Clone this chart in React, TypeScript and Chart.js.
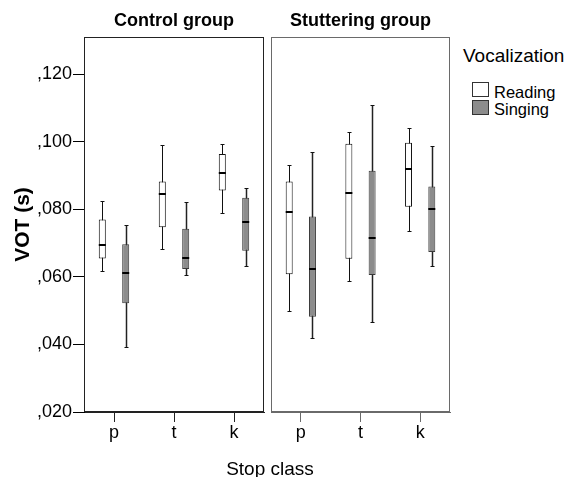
import React, { useEffect, useRef } from 'react';
import { Chart, registerables } from 'chart.js';

Chart.register(...registerables);

// ---------- data ----------
const categories = ['p', 't', 'k'];
const seriesNames = ['Reading', 'Singing'];
const panelTitles = ['Control group', 'Stuttering group'];
const yAxisTitle = 'VOT (s)';
const xAxisTitle = 'Stop class';
const legendTitle = 'Vocalization';
const yMin = 0.02;
const yMax = 0.1311;
const yStep = 0.02;

// Control group
const controlReadingMin = [0.0618, 0.0683, 0.0791];
const controlReadingQ1 = [0.0655, 0.0747, 0.0856];
const controlReadingMed = [0.0696, 0.0846, 0.0907];
const controlReadingQ3 = [0.077, 0.0883, 0.0964];
const controlReadingMax = [0.0824, 0.099, 0.0995];

const controlSingingMin = [0.0393, 0.0606, 0.0633];
const controlSingingQ1 = [0.0522, 0.0624, 0.0678];
const controlSingingMed = [0.0611, 0.0656, 0.0763];
const controlSingingQ3 = [0.0697, 0.0743, 0.0835];
const controlSingingMax = [0.0755, 0.0823, 0.0863];

// Stuttering group
const stutterReadingMin = [0.0499, 0.0588, 0.0737];
const stutterReadingQ1 = [0.0608, 0.0654, 0.0808];
const stutterReadingMed = [0.0793, 0.0848, 0.092];
const stutterReadingQ3 = [0.0883, 0.0995, 0.0998];
const stutterReadingMax = [0.0932, 0.1029, 0.1042];

const stutterSingingMin = [0.042, 0.0467, 0.0633];
const stutterSingingQ1 = [0.0482, 0.0606, 0.0674];
const stutterSingingMed = [0.0625, 0.0716, 0.0802];
const stutterSingingQ3 = [0.0779, 0.0915, 0.0868];
const stutterSingingMax = [0.0971, 0.1111, 0.0987];

// ---------- styles ----------
const FONT = "'Liberation Sans', Arial, sans-serif";
const READING_FILL = '#ffffff';
const SINGING_FILL = '#8c8c8c';

type Stats = { min: number[]; med: number[]; max: number[] };

function boxPlugin(stats: Stats[]) {
  return {
    id: 'boxParts',
    beforeDatasetsDraw(chart: any) {
      const ctx = chart.ctx;
      const y = chart.scales.y;
      chart.data.datasets.forEach((_ds: any, di: number) => {
        const meta = chart.getDatasetMeta(di);
        meta.data.forEach((bar: any, i: number) => {
          const x = Math.round(bar.x) + 0.5;
          const yTop = Math.round(y.getPixelForValue(stats[di].max[i])) + 0.5;
          const yBot = Math.round(y.getPixelForValue(stats[di].min[i])) + 0.5;
          ctx.save();
          ctx.strokeStyle = di === 0 ? '#111' : '#222';
          ctx.lineWidth = di === 0 ? 1 : 1.5;
          ctx.beginPath();
          ctx.moveTo(x, yTop);
          ctx.lineTo(x, yBot);
          ctx.stroke();
          ctx.lineWidth = 1;
          ctx.strokeStyle = '#111';
          ctx.beginPath();
          ctx.moveTo(x - 2, yTop);
          ctx.lineTo(x + 2, yTop);
          ctx.moveTo(x - 2, yBot);
          ctx.lineTo(x + 2, yBot);
          ctx.stroke();
          ctx.restore();
        });
      });
    },
    afterDatasetsDraw(chart: any) {
      const ctx = chart.ctx;
      const y = chart.scales.y;
      chart.data.datasets.forEach((_ds: any, di: number) => {
        const meta = chart.getDatasetMeta(di);
        meta.data.forEach((bar: any, i: number) => {
          const ym = Math.round(y.getPixelForValue(stats[di].med[i]));
          const half = bar.width / 2;
          ctx.save();
          ctx.strokeStyle = '#000';
          ctx.lineWidth = 2;
          ctx.beginPath();
          ctx.moveTo(bar.x - half, ym);
          ctx.lineTo(bar.x + half, ym);
          ctx.stroke();
          ctx.restore();
        });
      });
    },
  };
}

function framePlugin(color: string) {
  return {
    id: 'panelFrame',
    afterDraw(chart: any) {
      const { left, top, right, bottom } = chart.chartArea;
      const ctx = chart.ctx;
      ctx.save();
      ctx.strokeStyle = color;
      ctx.lineWidth = 1;
      ctx.strokeRect(left + 0.5, top + 0.5, right - left - 1, bottom - top - 1);
      ctx.restore();
    },
  };
}

function fmtTick(v: number) {
  return ',' + String(Math.round(v * 1000)).padStart(3, '0');
}

function makeConfig(panel: number) {
  const isLeft = panel === 0;
  const lineColor = isLeft ? '#222' : '#6a6a6a';
  const stats: Stats[] = isLeft
    ? [
        { min: controlReadingMin, med: controlReadingMed, max: controlReadingMax },
        { min: controlSingingMin, med: controlSingingMed, max: controlSingingMax },
      ]
    : [
        { min: stutterReadingMin, med: stutterReadingMed, max: stutterReadingMax },
        { min: stutterSingingMin, med: stutterSingingMed, max: stutterSingingMax },
      ];
  const q1s = isLeft ? [controlReadingQ1, controlSingingQ1] : [stutterReadingQ1, stutterSingingQ1];
  const q3s = isLeft ? [controlReadingQ3, controlSingingQ3] : [stutterReadingQ3, stutterSingingQ3];

  const datasets = seriesNames.map((name, si) => ({
    label: name,
    data: categories.map((_c, i) => [q1s[si][i], q3s[si][i]]),
    backgroundColor: si === 0 ? READING_FILL : SINGING_FILL,
    borderColor: si === 0 ? '#111' : '#3a3a3a',
    borderWidth: 1,
    borderSkipped: false,
    categoryPercentage: 0.78,
    barPercentage: 0.3,
  }));

  return {
    type: 'bar',
    data: { labels: categories, datasets },
    options: {
      responsive: false,
      animation: false,
      events: [],
      layout: {
        padding: isLeft
          ? { left: 0, right: 4, top: 0, bottom: 0 }
          : { left: 5, right: 6, top: 0, bottom: 0 },
      },
      plugins: {
        legend: { display: false },
        tooltip: { enabled: false },
        title: { display: false },
      },
      scales: {
        x: {
          type: 'category',
          position: 'bottom',
          offset: true,
          grid: {
            display: true,
            drawOnChartArea: false,
            drawTicks: true,
            tickLength: 10,
            offset: false,
            color: lineColor,
          },
          border: { display: true, color: lineColor },
          ticks: {
            color: '#000',
            padding: 0,
            font: { family: FONT, size: 18 },
            maxRotation: 0,
            autoSkip: false,
          },
          afterFit: (s: any) => {
            s.height = 65;
          },
        },
        x2: {
          type: 'category',
          position: 'top',
          labels: categories,
          grid: { display: false },
          border: { display: false },
          ticks: { display: false },
          title: {
            display: true,
            text: panelTitles[panel],
            color: '#000',
            font: { family: FONT, size: 18, weight: 'bold' },
            padding: { top: 10.5, bottom: 0 },
          },
          afterFit: (s: any) => {
            s.height = 37;
          },
        },
        y: {
          type: 'linear',
          display: isLeft,
          min: yMin,
          max: yMax,
          grid: {
            drawOnChartArea: false,
            drawTicks: true,
            tickLength: 11,
            color: '#000',
          },
          border: { display: true, color: '#000' },
          ticks: {
            stepSize: yStep,
            includeBounds: false,
            padding: 1,
            color: '#000',
            font: { family: FONT, size: 18 },
            callback: (v: any) => fmtTick(Number(v)),
          },
          title: {
            display: true,
            text: yAxisTitle,
            color: '#000',
            font: { family: FONT, size: 21, weight: 'bold' },
            padding: { top: 10.5, bottom: 0 },
          },
          afterFit: (s: any) => {
            s.width = isLeft ? 84 : 0;
          },
        },
      },
    },
    plugins: [boxPlugin(stats), framePlugin(lineColor)],
  };
}

function Panel({ panel, left, width }: { panel: number; left: number; width: number }) {
  const ref = useRef<HTMLCanvasElement | null>(null);
  useEffect(() => {
    if (!ref.current) return;
    const chart = new Chart(ref.current, makeConfig(panel) as any);
    return () => chart.destroy();
  }, [panel]);
  return (
    <canvas
      ref={ref}
      width={width}
      height={477}
      style={{ position: 'absolute', left, top: 0, width, height: 477 }}
    />
  );
}

export default function App() {
  const legendItems = seriesNames.map((name, i) => ({
    name,
    fill: i === 0 ? READING_FILL : SINGING_FILL,
  }));
  return (
    <div
      style={{
        position: 'absolute',
        left: 0,
        top: 0,
        width: 567,
        height: 477,
        overflow: 'hidden',
        background: '#fff',
        fontFamily: FONT,
        color: '#000',
      }}
    >
      <Panel panel={0} left={0} width={268} />
      <Panel panel={1} left={266} width={190} />
      <div
        style={{
          position: 'absolute',
          left: 170,
          width: 200,
          top: 458.5,
          textAlign: 'center',
          fontSize: 19,
          lineHeight: '20px',
          whiteSpace: 'nowrap',
        }}
      >
        {xAxisTitle}
      </div>
      <div
        style={{
          position: 'absolute',
          left: 463,
          top: 44.5,
          fontSize: 19,
          lineHeight: '22px',
          whiteSpace: 'nowrap',
        }}
      >
        {legendTitle}
      </div>
      {legendItems.map((it, i) => (
        <React.Fragment key={it.name}>
          <div
            style={{
              position: 'absolute',
              left: 472,
              top: 82 + i * 18,
              width: 17,
              height: 15,
              boxSizing: 'border-box',
              border: '1px solid #333',
              background: it.fill,
            }}
          />
          <div
            style={{
              position: 'absolute',
              left: 494,
              top: 82.5 + i * 17.5,
              fontSize: 16.5,
              lineHeight: '18px',
              whiteSpace: 'nowrap',
            }}
          >
            {it.name}
          </div>
        </React.Fragment>
      ))}
    </div>
  );
}
